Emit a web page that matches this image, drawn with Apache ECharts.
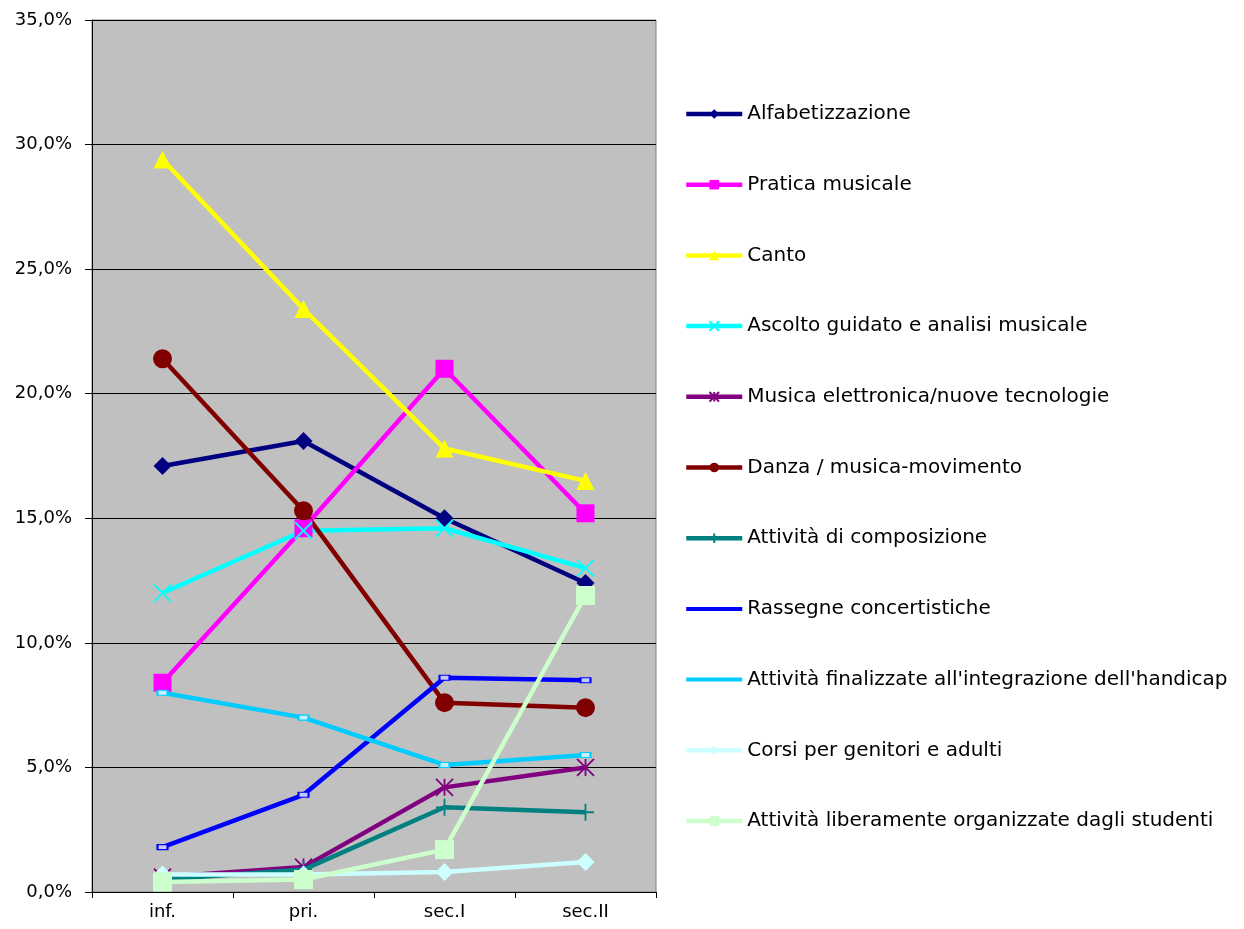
<!DOCTYPE html>
<html>
<head>
<meta charset="utf-8">
<script src="https://cdn.jsdelivr.net/npm/echarts@6/dist/echarts.min.js"></script>
<style>html,body{margin:0;padding:0;background:#fff;}#c{width:1244px;height:929px;}</style>
</head>
<body>
<div id="c"></div>
<script>
const categories = ['inf.', 'pri.', 'sec.I', 'sec.II'];
const yTicks = [0, 5, 10, 15, 20, 25, 30, 35];

const alfabetizzazione = [17.1, 18.1, 15.0, 12.4];
const praticaMusicale = [8.4, 14.6, 21.0, 15.2];
const canto = [29.4, 23.4, 17.8, 16.5];
const ascolto = [12.0, 14.5, 14.6, 13.0];
const musicaElettronica = [0.6, 1.0, 4.2, 5.0];
const danza = [21.4, 15.3, 7.6, 7.4];
const composizione = [0.5, 0.9, 3.4, 3.2];
const rassegne = [1.8, 3.9, 8.6, 8.5];
const handicap = [8.0, 7.0, 5.1, 5.5];
const corsi = [0.7, 0.7, 0.8, 1.2];
const liberamente = [0.4, 0.5, 1.7, 11.9];

const FONT = 'DejaVu Sans, Liberation Sans, Arial, sans-serif';
const X_PATH = 'path://M0,0L10,10M10,0L0,10';
const PLUS_PATH = 'path://M5,0L5,10M0,5L10,5';
const AST_PATH = 'path://M0,0L10,10M10,0L0,10M5,0L5,10';
const LINE_ICON = 'path://M0,0L56,0L56,4L0,4Z';

function mk(name, data, color, symbol, size, extra) {
  const s = {
    name: name, type: 'line', data: data, color: color,
    symbol: symbol, symbolSize: size,
    lineStyle: {width: 4.5, color: color},
    itemStyle: {color: color},
    emphasis: {disabled: true},
    animation: false
  };
  return Object.assign(s, extra || {});
}
const strokeSym = (c) => ({itemStyle: {color: c, borderColor: c, borderWidth: 1.8}});

const series = [
  mk('Alfabetizzazione', alfabetizzazione, '#000080', 'diamond', 18),
  mk('Pratica musicale', praticaMusicale, '#FF00FF', 'rect', 18),
  mk('Canto', canto, '#FFFF00', 'triangle', 18),
  mk('Ascolto guidato e analisi musicale', ascolto, '#00FFFF', X_PATH, 17, strokeSym('#00FFFF')),
  mk('Musica elettronica/nuove tecnologie', musicaElettronica, '#800080', AST_PATH, 17, strokeSym('#800080')),
  mk('Danza / musica-movimento', danza, '#800000', 'circle', 19),
  mk('Attività di composizione', composizione, '#008080', PLUS_PATH, 17, strokeSym('#008080')),
  mk('Rassegne concertistiche', rassegne, '#0000FF', 'rect', [10, 5], {itemStyle: {color: '#c8c8ff', borderColor: '#0000FF', borderWidth: 1.5}}),
  mk("Attività finalizzate all'integrazione dell'handicap", handicap, '#00CCFF', 'rect', [10, 5], {itemStyle: {color: '#c8f0ff', borderColor: '#00CCFF', borderWidth: 1.5}}),
  mk('Corsi per genitori e adulti', corsi, '#CCFFFF', 'diamond', 18),
  mk('Attività liberamente organizzate dagli studenti', liberamente, '#CCFFCC', 'rect', 19)
];

const legendData = series.map(s => {
  if (s.name === 'Rassegne concertistiche' || s.name.indexOf('handicap') >= 0) {
    return {name: s.name, icon: LINE_ICON, itemStyle: {color: s.color, borderWidth: 0}};
  }
  return {name: s.name};
});

const chart = echarts.init(document.getElementById('c'), null, {renderer: 'canvas'});
chart.setOption({
  animation: false,
  backgroundColor: '#ffffff',
  textStyle: {fontFamily: FONT},
  grid: {left: 92, right: 588, top: 20, bottom: 37, show: true, backgroundColor: '#C0C0C0', borderColor: '#808080', borderWidth: 1},
  legend: {
    orient: 'vertical', left: 684, top: 103, padding: 0,
    itemWidth: 56, itemHeight: 12, itemGap: 48.7,
    lineStyle: {width: 4.5},
    textStyle: {fontSize: 20, lineHeight: 22, color: '#000', fontFamily: FONT},
    data: legendData
  },
  xAxis: {
    type: 'category', data: categories, boundaryGap: true,
    axisLine: {lineStyle: {color: '#000', width: 1}},
    axisTick: {show: true, length: 6, lineStyle: {color: '#000'}},
    axisLabel: {fontSize: 18, color: '#000', margin: 11, fontFamily: FONT}
  },
  yAxis: {
    type: 'value', min: yTicks[0], max: yTicks[yTicks.length - 1], interval: 5,
    axisLine: {show: true, lineStyle: {color: '#000'}},
    axisTick: {show: true, length: 7, lineStyle: {color: '#000'}},
    axisLabel: {fontSize: 18, color: '#000', margin: 20, fontFamily: FONT, formatter: v => v.toFixed(1).replace('.', ',') + '%'},
    splitLine: {show: true, lineStyle: {color: '#000', width: 1}}
  },
  series: series
});
</script>
</body>
</html>
